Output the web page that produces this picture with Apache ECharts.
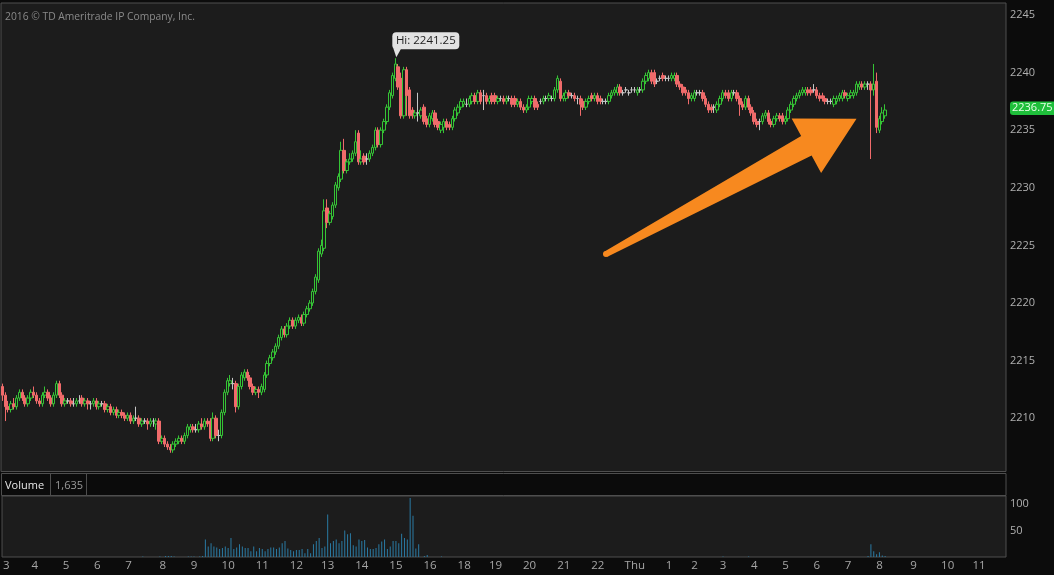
<!DOCTYPE html>
<html><head><meta charset="utf-8">
<script src="https://cdn.jsdelivr.net/npm/echarts@6/dist/echarts.min.js"></script>
<style>html,body{margin:0;padding:0;background:#0c0c0c;overflow:hidden}#c{width:1054px;height:575px}</style>
</head><body><div id="c"></div>
<script>
// ---- tick labels of the time axis (one per hour) and bars in each hour ----
const hourLabels = ['3','4','5','6','7','8','9','10','11','12','13','14','15','16','18','19','20','21','22','Thu','1','2','3','4','5','6','7','8','9','10','11'];
const barsPerHour = [10,11,11,11,12,11,12,12,12,11,12,12,12,12, 11,12,12,12,13,12,9,10,11,11,11,11,11,12,12,11,10];
const leadLabel = '2';

// ---- 5-minute candles: [open, close, low, high] ----
const candles = [
[2212.75,2212.0,2211.5,2213.0],[2212.0,2211.0,2209.75,2212.25],[2211.0,2210.75,2210.5,2211.5],[2210.75,2211.25,2210.5,2211.5],[2211.25,2211.0,2210.75,2211.75],
[2211.0,2211.75,2210.75,2212.0],[2211.75,2212.25,2211.5,2212.5],[2212.25,2211.75,2211.5,2212.5],[2211.75,2211.25,2211.0,2212.0],[2211.25,2211.75,2211.0,2212.0],
[2211.75,2212.25,2211.5,2212.5],[2212.25,2212.0,2211.75,2212.75],[2212.0,2211.5,2211.25,2212.25],[2211.5,2211.25,2211.0,2211.75],[2211.25,2212.0,2211.0,2212.25],
[2212.0,2212.25,2211.75,2212.75],[2212.25,2211.75,2211.5,2212.5],[2211.75,2211.25,2211.0,2212.0],[2211.25,2212.0,2211.0,2212.25],[2212.0,2213.0,2211.75,2213.25],
[2213.0,2212.0,2211.75,2213.25],[2212.0,2211.25,2211.0,2212.25],[2211.25,2211.5,2211.0,2211.75],[2211.5,2211.5,2211.25,2211.75],[2211.5,2211.25,2211.0,2211.75],
[2211.25,2211.25,2211.0,2211.75],[2211.25,2211.5,2211.0,2211.75],[2211.5,2211.5,2211.25,2212.0],[2211.75,2211.25,2211.0,2212.0],[2211.25,2211.5,2211.0,2211.75],
[2211.5,2211.25,2210.75,2211.75],[2211.25,2211.25,2210.75,2211.5],[2211.25,2211.5,2211.0,2211.75],[2211.5,2211.0,2210.75,2211.75],[2211.0,2211.25,2210.75,2211.5],
[2211.25,2211.25,2211.0,2211.5],[2211.25,2210.75,2210.5,2211.5],[2210.75,2211.0,2210.5,2211.25],[2211.0,2210.5,2210.25,2211.25],[2210.5,2210.75,2210.25,2211.0],
[2210.75,2210.25,2210.0,2211.0],[2210.25,2210.5,2210.0,2210.75],[2210.5,2210.25,2210.0,2210.75],[2210.25,2210.0,2209.75,2210.5],[2210.0,2210.25,2209.75,2210.5],
[2210.25,2209.75,2209.5,2210.5],[2209.75,2210.0,2209.5,2210.25],[2210.0,2210.0,2209.75,2211.0],[2210.0,2209.5,2209.25,2210.25],[2209.5,2209.75,2209.25,2210.0],
[2209.75,2209.75,2209.5,2210.0],[2209.75,2209.5,2209.0,2210.0],[2209.5,2209.75,2209.25,2210.0],[2209.75,2209.75,2209.25,2210.0],[2209.5,2209.75,2209.0,2210.0],
[2209.75,2208.0,2207.75,2210.0],[2208.0,2208.25,2207.75,2208.5],[2208.25,2207.75,2207.5,2208.5],[2207.75,2207.5,2207.25,2208.0],[2207.5,2207.25,2207.0,2207.75],
[2207.25,2207.75,2207.0,2208.0],[2207.75,2208.0,2207.5,2208.25],[2208.0,2208.25,2207.75,2208.5],[2208.25,2208.0,2207.75,2208.5],[2208.0,2208.5,2207.75,2208.75],
[2208.5,2209.25,2208.25,2209.5],[2209.0,2209.25,2208.75,2209.5],[2209.25,2209.0,2208.75,2209.5],[2209.0,2209.0,2208.75,2209.5],[2209.0,2209.5,2208.75,2209.75],
[2209.5,2209.25,2209.0,2210.0],[2209.25,2209.75,2209.0,2210.0],[2209.75,2209.5,2209.25,2210.0],[2209.75,2208.25,2208.0,2210.0],[2208.25,2210.0,2208.0,2210.5],
[2210.0,2208.5,2208.25,2210.25],[2208.5,2208.5,2208.0,2209.0],[2208.5,2210.5,2208.25,2210.75],[2210.5,2212.25,2210.25,2212.5],[2212.25,2213.25,2212.0,2213.5],
[2213.0,2213.25,2212.75,2213.75],[2213.0,2213.0,2212.5,2213.5],[2213.0,2211.0,2210.5,2213.25],[2211.0,2212.75,2210.75,2213.0],[2212.75,2213.75,2212.5,2214.0],
[2213.5,2214.0,2213.25,2214.25],[2214.0,2213.5,2213.25,2214.25],[2213.5,2212.75,2212.5,2213.75],[2212.75,2212.25,2212.0,2213.0],[2212.25,2212.5,2212.0,2212.75],
[2212.5,2212.25,2211.75,2212.75],[2212.25,2212.75,2212.0,2213.0],[2212.5,2213.75,2212.25,2214.0],[2213.75,2214.75,2213.5,2215.0],[2214.75,2215.25,2214.5,2215.5],
[2215.25,2215.75,2215.0,2216.0],[2215.75,2216.25,2215.5,2216.5],[2216.25,2217.0,2216.0,2217.25],[2217.0,2217.75,2216.75,2218.0],[2217.75,2217.25,2217.0,2218.0],
[2217.25,2218.0,2217.0,2218.25],[2218.0,2218.5,2217.75,2218.75],[2218.5,2218.0,2217.75,2218.75],[2218.0,2218.5,2217.75,2218.75],[2218.5,2218.75,2218.25,2219.0],
[2218.75,2218.25,2218.0,2219.0],[2218.25,2219.0,2218.0,2219.25],[2219.0,2219.5,2218.75,2219.75],[2219.5,2220.0,2219.25,2220.25],[2220.0,2221.0,2219.75,2221.25],
[2221.0,2222.25,2220.75,2222.5],[2222.0,2224.5,2221.75,2224.75],[2224.25,2225.0,2224.0,2225.5],[2224.75,2228.0,2224.5,2229.0],[2228.25,2227.0,2226.5,2229.0],
[2227.0,2227.75,2226.75,2228.0],[2227.5,2228.5,2227.25,2228.75],[2228.5,2230.25,2228.25,2230.5],[2230.0,2231.0,2229.75,2231.25],[2230.75,2233.25,2230.5,2234.0],
[2233.25,2231.5,2231.25,2234.25],[2231.5,2232.25,2231.25,2232.5],[2232.25,2232.5,2232.0,2233.0],[2232.5,2233.0,2232.25,2233.25],[2233.0,2234.0,2232.75,2235.0],
[2234.75,2232.25,2232.0,2235.0],[2232.25,2232.5,2232.0,2233.25],[2232.75,2232.25,2232.0,2233.0],[2232.5,2232.5,2232.0,2233.0],[2232.5,2233.0,2232.25,2233.25],
[2233.0,2233.5,2232.75,2233.75],[2233.5,2235.0,2233.25,2235.25],[2235.0,2233.75,2233.5,2235.25],[2233.75,2235.0,2233.5,2235.25],[2235.0,2235.75,2234.75,2236.0],
[2235.75,2237.0,2235.5,2237.25],[2237.0,2238.25,2236.75,2238.5],[2238.0,2239.75,2237.75,2240.0],[2239.5,2240.75,2239.25,2241.25],[2240.5,2238.75,2238.5,2240.75],
[2239.5,2236.25,2236.0,2240.0],[2236.25,2240.25,2236.0,2240.5],[2240.25,2238.0,2236.25,2240.5],[2238.5,2236.25,2236.0,2238.75],[2236.75,2236.25,2236.0,2237.0],
[2236.25,2236.5,2236.0,2236.75],[2236.5,2236.5,2235.75,2238.25],[2236.25,2236.75,2236.0,2237.0],[2237.0,2235.75,2235.5,2237.25],[2236.0,2235.5,2235.25,2236.25],
[2235.5,2236.25,2235.25,2236.5],[2236.0,2236.5,2235.75,2236.75],[2236.5,2235.5,2235.25,2236.75],[2235.75,2235.25,2235.0,2236.0],[2235.0,2235.5,2234.75,2235.75],
[2235.25,2235.75,2234.75,2236.0],[2235.75,2235.25,2235.0,2236.0],[2235.5,2235.25,2235.0,2235.75],[2235.25,2236.0,2235.0,2236.25],[2236.0,2236.75,2235.75,2237.0],
[2236.5,2237.0,2236.25,2237.25],[2237.0,2237.5,2236.75,2237.75],[2237.25,2237.5,2237.0,2237.75],[2237.25,2237.25,2237.0,2237.75],[2237.25,2237.75,2237.0,2238.0],
[2237.5,2238.0,2237.25,2238.25],[2238.0,2237.5,2237.25,2238.25],[2237.5,2238.25,2237.25,2238.5],[2238.25,2237.5,2237.25,2238.5],[2238.0,2238.0,2236.75,2238.5],
[2238.0,2237.5,2237.25,2238.25],[2237.5,2237.75,2237.25,2238.0],[2238.0,2237.5,2237.25,2238.25],[2238.0,2237.5,2237.25,2238.25],[2237.5,2237.75,2237.25,2238.0],
[2237.75,2237.75,2237.5,2238.0],[2237.75,2237.5,2237.25,2238.0],[2237.5,2237.75,2237.25,2238.0],[2237.75,2237.75,2237.5,2238.0],[2237.75,2237.25,2237.0,2238.0],
[2237.75,2237.25,2237.0,2238.0],[2237.25,2237.5,2237.0,2237.75],[2237.5,2237.0,2236.75,2237.75],[2237.0,2236.75,2236.5,2237.25],[2236.75,2237.0,2236.5,2237.25],
[2237.0,2237.75,2236.75,2238.0],[2237.5,2237.75,2237.25,2238.0],[2237.75,2237.0,2236.75,2238.0],[2237.25,2237.0,2236.75,2237.5],[2237.5,2237.5,2237.25,2237.75],
[2237.5,2237.75,2237.25,2238.0],[2237.75,2237.75,2237.5,2238.0],[2237.75,2238.0,2237.5,2238.25],[2237.75,2237.75,2237.5,2238.0],[2237.75,2238.5,2237.5,2238.75],
[2238.5,2239.5,2238.25,2239.75],[2239.25,2237.75,2237.5,2239.5],[2237.75,2238.0,2237.5,2238.25],[2237.75,2238.25,2237.5,2238.5],[2238.25,2238.0,2237.75,2238.5],
[2238.0,2238.0,2237.75,2238.25],[2238.0,2237.75,2237.5,2238.25],[2237.75,2237.75,2237.25,2238.0],[2237.75,2237.25,2236.25,2238.0],[2237.5,2237.0,2236.75,2237.75],
[2237.0,2237.5,2236.75,2237.75],[2237.5,2237.75,2237.25,2238.0],[2238.0,2237.75,2237.5,2238.25],[2237.75,2238.0,2237.5,2238.25],[2238.0,2237.5,2237.25,2238.25],
[2237.75,2237.5,2237.25,2238.0],[2237.5,2237.5,2237.25,2237.75],[2237.5,2237.5,2237.25,2237.75],[2237.5,2238.0,2237.25,2238.25],[2238.0,2238.25,2237.75,2238.5],
[2238.25,2238.5,2238.0,2238.75],[2238.25,2238.75,2238.0,2239.0],[2238.75,2238.25,2238.0,2239.0],[2238.25,2238.25,2238.0,2238.5],[2238.5,2238.5,2238.25,2238.75],
[2238.25,2238.25,2238.0,2238.5],[2238.5,2238.5,2238.25,2238.75],[2238.5,2238.5,2238.25,2238.75],[2238.25,2238.5,2238.0,2238.75],[2238.5,2238.5,2238.25,2238.75],
[2238.5,2239.25,2238.25,2239.5],[2239.25,2239.75,2239.0,2240.0],[2239.5,2240.0,2239.25,2240.25],[2240.0,2239.25,2239.0,2240.25],[2240.0,2239.0,2238.75,2240.25],
[2239.25,2239.25,2239.0,2239.5],[2239.5,2239.5,2239.25,2239.75],[2239.75,2239.5,2239.25,2240.0],[2239.5,2239.5,2239.25,2239.75],[2239.5,2239.5,2239.25,2239.75],
[2239.5,2239.75,2239.25,2240.0],[2239.5,2239.75,2239.25,2240.0],[2239.75,2239.0,2238.75,2240.0],[2239.0,2238.75,2238.5,2239.25],[2238.75,2238.25,2238.0,2239.0],
[2238.5,2238.25,2238.0,2238.75],[2238.25,2237.75,2237.25,2238.5],[2237.75,2238.0,2237.5,2238.25],[2237.75,2238.25,2237.5,2238.5],[2238.25,2238.25,2238.0,2238.5],
[2238.25,2238.25,2238.0,2238.5],[2238.25,2237.75,2237.5,2238.5],[2237.75,2237.25,2237.0,2238.0],[2237.25,2236.75,2236.5,2237.5],[2237.0,2236.75,2236.5,2237.25],
[2237.0,2237.0,2236.5,2237.25],[2236.75,2237.25,2236.5,2237.5],[2237.25,2237.75,2237.0,2238.0],[2237.75,2238.25,2237.5,2238.5],[2238.25,2238.0,2237.75,2238.5],
[2238.25,2237.75,2237.5,2238.5],[2237.75,2238.25,2237.5,2238.5],[2238.25,2238.25,2238.0,2238.5],[2238.25,2237.75,2237.5,2238.5],[2237.75,2237.25,2236.25,2238.0],
[2237.25,2237.0,2236.75,2237.5],[2237.0,2237.75,2236.75,2238.0],[2237.75,2237.0,2236.75,2238.0],[2237.0,2236.5,2236.25,2237.25],[2236.5,2235.75,2235.5,2236.75],
[2235.75,2235.5,2235.25,2236.0],[2235.75,2235.75,2235.0,2236.0],[2235.75,2236.25,2235.5,2236.5],[2236.25,2236.5,2236.0,2236.75],[2236.5,2235.75,2235.5,2236.75],
[2235.75,2235.5,2235.25,2236.0],[2235.5,2236.0,2235.25,2236.25],[2236.0,2236.25,2235.75,2236.5],[2236.25,2236.0,2235.75,2236.5],[2236.25,2235.75,2235.5,2236.5],
[2235.75,2236.0,2235.5,2236.25],[2236.0,2236.75,2235.75,2237.0],[2236.75,2237.25,2236.5,2237.5],[2237.25,2237.75,2237.0,2238.0],[2237.75,2238.0,2237.5,2238.25],
[2238.0,2238.25,2237.75,2238.5],[2238.25,2238.5,2238.0,2238.75],[2238.25,2238.5,2238.0,2238.75],[2238.5,2238.25,2238.0,2238.75],[2238.5,2238.25,2238.0,2238.75],
[2238.5,2238.5,2238.25,2239.0],[2238.5,2238.0,2237.75,2238.75],[2238.0,2237.75,2237.5,2238.25],[2238.0,2237.75,2237.5,2238.25],[2237.75,2237.5,2237.25,2238.0],
[2237.5,2237.5,2237.25,2237.75],[2237.5,2237.5,2237.25,2237.75],[2237.25,2237.75,2237.0,2238.0],[2237.5,2237.75,2237.25,2238.0],[2237.75,2238.0,2237.5,2238.25],
[2237.75,2238.25,2237.5,2238.5],[2238.25,2238.0,2237.75,2238.5],[2237.75,2238.0,2237.5,2238.25],[2238.0,2238.25,2237.75,2238.5],[2238.0,2238.25,2237.75,2238.5],
[2238.25,2239.0,2238.0,2239.25],[2238.75,2239.0,2238.5,2239.25],[2239.0,2238.75,2238.5,2239.25],[2238.75,2239.0,2238.5,2239.25],[2239.0,2239.0,2238.5,2239.25],
[2239.0,2238.5,2232.5,2239.25],[2238.5,2239.0,2238.0,2240.75],[2239.25,2235.25,2234.75,2240.0],[2235.0,2236.0,2234.75,2236.25],[2235.75,2236.5,2235.5,2237.0],
[2236.25,2236.75,2236.0,2237.25]
];

// ---- volume per candle ----
const volumes = [
0,0,0,0,0,0,0,0,0,0,0,0,0,0,0,0,0,0,0,0,
0,0,0,0,0,0,0,0,0,0,0,0,0,0,0,0,0,0,0,0,
0,0,0,0,0,0,0,0,0,1,0,0,0,0,0,1,0,2,2,2,
1,0,0,0,0,1,1,1,0,1,2,33,20,26,20,18,15,17,20,17,
36,15,18,24,20,17,17,11,20,11,17,15,11,15,18,18,15,18,26,30,
16,13,11,13,13,15,7,15,7,24,30,36,17,20,80,26,30,33,26,30,
50,43,45,22,20,33,30,32,18,15,15,17,24,29,33,15,20,30,30,26,
44,36,33,111,78,16,24,0,2,4,0,0,0,0,1,0,0,0,0,0,
0,0,0,0,0,0,0,0,0,0,0,0,0,0,0,0,0,0,0,0,
0,0,0,0,0,0,0,0,0,0,0,0,0,0,0,0,0,0,0,0,
0,0,0,0,0,0,0,0,0,0,0,0,0,0,0,0,0,0,0,0,
0,0,0,0,0,0,0,0,0,0,0,0,0,0,0,0,0,0,0,0,
0,0,0,0,0,0,0,0,0,0,0,0,0,1,0,0,0,0,0,0,
0,0,1,0,0,0,0,0,0,0,0,0,0,0,0,0,0,0,0,0,
0,0,0,0,0,0,0,0,0,0,0,0,0,0,0,0,0,0,0,0,
0,0,0,0,2,24,11,5,9,3,2
];

const priceTicks = [2210,2215,2220,2225,2230,2235,2240,2245];
const volumeTicks = [50,100];
const lastPrice = 2236.75;
const highIndex = 138, highPrice = 2241.25;
const volumeText = '1,635';
const copyrightText = '2016 \u00a9 TD Ameritrade IP Company, Inc.';
const arrowTail = [212, 2224.25];
const arrowTip = [300, 2236.0];

// ---- build categories ----
const categories = ['L|1|' + leadLabel];
hourLabels.forEach((h, i) => {
  for (let j = 0; j < barsPerHour[i]; j++) categories.push(i + '|' + j + '|' + h);
});

const FONT = '"Open Sans", "DejaVu Sans", sans-serif';
const chart = echarts.init(document.getElementById('c'), null, {renderer: 'canvas'});

const option = {
  backgroundColor: '#0c0c0c',
  animation: false,
  grid: [
    {left: 1, top: 3, width: 1005, height: 468.5, show: true, backgroundColor: '#1c1c1c', borderColor: '#4e4e4e', borderWidth: 1},
    {left: 1, top: 496, width: 1005, height: 61, show: true, backgroundColor: '#1c1c1c', borderColor: '#4e4e4e', borderWidth: 1}
  ],
  xAxis: [
    {type: 'category', gridIndex: 0, data: categories, boundaryGap: true,
     axisLine: {show: false}, axisTick: {show: false}, axisLabel: {show: false}, splitLine: {show: false}},
    {type: 'category', gridIndex: 1, data: categories, boundaryGap: true,
     axisLine: {show: false}, axisTick: {show: false}, splitLine: {show: false},
     axisLabel: {show: true, interval: (i, v) => v.split('|')[1] === '0' && v[0] !== 'L',
       formatter: v => v.split('|')[2], color: '#a6a6a6', fontSize: 11.5, fontFamily: FONT, margin: 3}}
  ],
  yAxis: [
    {type: 'value', gridIndex: 0, position: 'right', min: 2205.373, max: 2246.042, scale: true,
     axisLine: {show: false}, axisTick: {show: false}, splitLine: {show: false},
     axisLabel: {customValues: priceTicks, formatter: v => String(v), color: '#b0b0b0', fontSize: 11, fontFamily: FONT, margin: 4}},
    {type: 'value', gridIndex: 1, position: 'right', min: 0, max: 115,
     axisLine: {show: false}, axisTick: {show: false}, splitLine: {show: false},
     axisLabel: {customValues: volumeTicks, formatter: v => String(v), color: '#b0b0b0', fontSize: 11, fontFamily: FONT, margin: 4}}
  ],
  series: [
    {type: 'candlestick', xAxisIndex: 0, yAxisIndex: 0, data: candles, barWidth: 3,
     itemStyle: {color: 'rgba(0,0,0,0)', color0: '#f06b6b', borderColor: '#35c435', borderColor0: '#f06b6b',
                 borderColorDoji: '#c6c6c6', borderWidth: 1}},
    {type: 'bar', xAxisIndex: 1, yAxisIndex: 1, data: volumes, barWidth: 1, silent: true,
     itemStyle: {color: '#2a7aa3'}}
  ]
};
chart.setOption(option);

// ---- annotations positioned through the chart's own scales ----
const hp = chart.convertToPixel({gridIndex: 0}, [highIndex, highPrice]);
const lpY = chart.convertToPixel({yAxisIndex: 0}, lastPrice);
const t = chart.convertToPixel({gridIndex: 0}, arrowTail);
const p = chart.convertToPixel({gridIndex: 0}, arrowTip);
const dx = p[0] - t[0], dy = p[1] - t[1], L = Math.hypot(dx, dy);
const ux = dx / L, uy = dy / L, nx = -uy, ny = ux;
const pt = (a, b) => [t[0] + ux * a + nx * b, t[1] + uy * a + ny * b];
const headLen = 57, headHalf = 31, shaftEnd = 11, shaftStart = 3;
const arrowPts = [pt(0, -shaftStart), pt(L - headLen, -shaftEnd), pt(L - headLen, -headHalf), pt(L, 0),
                  pt(L - headLen, headHalf), pt(L - headLen, shaftEnd), pt(0, shaftStart)];

const boxL = hp[0] - 3, boxT = hp[1] - 26;
chart.setOption({
  graphic: [
    {type: 'text', x: 5, y: 17, z: 50, style: {text: copyrightText, fill: '#8a8a8a', font: '10.3px ' + FONT, verticalAlign: 'middle', align: 'left'}},
    // volume header row
    {type: 'rect', z: 50, shape: {x: 1.5, y: 473.5, width: 1004.5, height: 22}, style: {fill: '#0b0b0b', stroke: '#4e4e4e', lineWidth: 1}},
    {type: 'line', z: 51, shape: {x1: 50.5, y1: 473.5, x2: 50.5, y2: 495.5}, style: {stroke: '#4e4e4e', lineWidth: 1}},
    {type: 'line', z: 51, shape: {x1: 86.5, y1: 473.5, x2: 86.5, y2: 495.5}, style: {stroke: '#4e4e4e', lineWidth: 1}},
    {type: 'text', z: 52, x: 5, y: 485.5, style: {text: 'Volume', fill: '#e6e6e6', font: '11px ' + FONT, verticalAlign: 'middle', align: 'left'}},
    {type: 'text', z: 52, x: 55, y: 485.5, style: {text: volumeText, fill: '#9a9a9a', font: '11px ' + FONT, verticalAlign: 'middle', align: 'left'}},
    // high callout
    {type: 'polygon', z: 60, shape: {points: [[hp[0] - 2, hp[1] - 10], [hp[0] + 6, hp[1] - 10], [hp[0] + 1, hp[1] - 1]]}, style: {fill: '#e2e2e2'}},
    {type: 'rect', z: 60, shape: {x: boxL, y: boxT, width: 67, height: 17, r: 4}, style: {fill: '#e2e2e2'}},
    {type: 'text', z: 61, x: boxL + 33.5, y: boxT + 9, style: {text: 'Hi: ' + highPrice.toFixed(2), fill: '#1e1e1e', font: '11.5px ' + FONT, verticalAlign: 'middle', align: 'center'}},
    // last price tag
    {type: 'rect', z: 60, shape: {x: 1010, y: lpY - 8.5, width: 50, height: 13.5, r: 3}, style: {fill: '#1fbf3b'}},
    {type: 'text', z: 61, x: 1012, y: lpY - 1.8, style: {text: lastPrice.toFixed(2), fill: '#e8ffe8', font: '11px ' + FONT, verticalAlign: 'middle', align: 'left'}},
    // orange arrow
    {type: 'polygon', z: 70, shape: {points: arrowPts}, style: {fill: '#f7891f'}},
    {type: 'circle', z: 70, shape: {cx: t[0], cy: t[1], r: shaftStart}, style: {fill: '#f7891f'}}
  ]
});
</script></body></html>
